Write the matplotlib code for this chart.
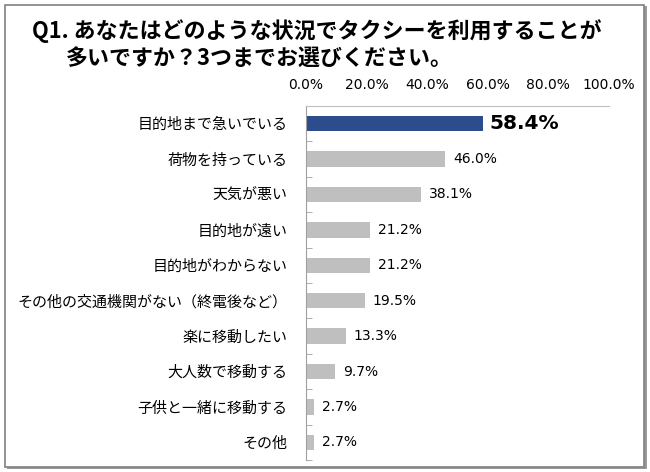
import matplotlib.pyplot as plt
from matplotlib.patches import Rectangle
import numpy as np

plt.rcParams['font.family'] = ['Noto Sans CJK JP', 'DejaVu Sans']

categories = ['目的地まで急いでいる', '荷物を持っている', '天気が悪い', '目的地が遠い',
              '目的地がわからない', 'その他の交通機関がない（終電後など）', '楽に移動したい',
              '大人数で移動する', '子供と一緒に移動する', 'その他']
values = [58.4, 46.0, 38.1, 21.2, 21.2, 19.5, 13.3, 9.7, 2.7, 2.7]
xticks = [0, 20, 40, 60, 80, 100]

fig = plt.figure(figsize=(6.5, 4.72), dpi=100)

# outer frame with a little shadow
fig.patches.append(Rectangle((7 / 650, 3 / 472), 640 / 650, 463 / 472, transform=fig.transFigure,
                             facecolor='#9a9a9a', edgecolor='none', zorder=0))
fig.patches.append(Rectangle((4.5 / 650, 5.5 / 472), 639 / 650, 462 / 472, transform=fig.transFigure,
                             facecolor='white', edgecolor='#808080', linewidth=1.2, zorder=1))

fig.text(32 / 650, 1 - 31 / 472, 'Q1. あなたはどのような状況でタクシーを利用することが',
         fontsize=15.8, fontweight='bold', va='center', ha='left')
fig.text(66 / 650, 1 - 58 / 472, '多いですか？3つまでお選びください。',
         fontsize=15.8, fontweight='bold', va='center', ha='left')

ax = fig.add_axes([306 / 650, 12 / 472, 303 / 650, 354 / 472])
ax.set_zorder(2)
ax.patch.set_alpha(0)

y = np.arange(len(categories))
colors = ['#2c4c8c'] + ['#bfbfbf'] * (len(categories) - 1)
ax.barh(y, values, height=0.43, color=colors)

for i, v in enumerate(values):
    if i == 0:
        ax.text(v + 2.0, i, f'{v:.1f}%', va='center', ha='left', fontsize=14.5,
                fontweight='bold', family='DejaVu Sans')
    else:
        ax.text(v + 2.5, i, f'{v:.1f}%', va='center', ha='left', fontsize=10,
                family='DejaVu Sans')

ax.set_xlim(0, 100)
ax.set_ylim(len(categories) - 0.5, -0.5)
ax.xaxis.tick_top()
ax.set_xticks(xticks)
ax.set_xticklabels([f'{t:.1f}%' for t in xticks], family='DejaVu Sans', fontsize=10)
ax.tick_params(axis='x', length=0, pad=10)

ax.set_yticks(y)
ax.set_yticklabels(categories, fontsize=10.8)
ax.tick_params(axis='y', length=0, pad=13.5)
ax.set_yticks(np.arange(len(categories) + 1) - 0.5, minor=True)
ax.tick_params(axis='y', which='minor', direction='in', length=4, color='#a0a0a0')

for s in ['right', 'bottom']:
    ax.spines[s].set_visible(False)
ax.spines['top'].set_color('#bfbfbf')
ax.spines['left'].set_color('#a0a0a0')

plt.savefig('out.png', dpi=100)
